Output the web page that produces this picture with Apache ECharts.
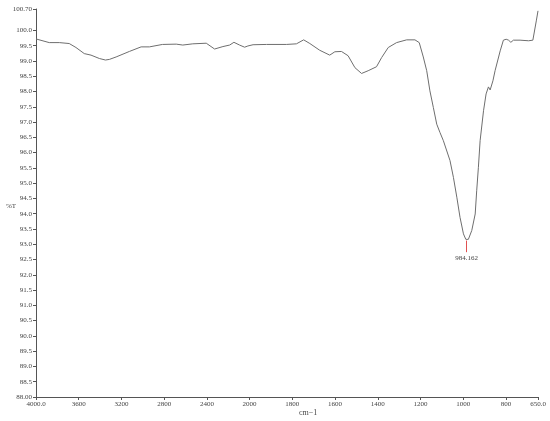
<!DOCTYPE html>
<html>
<head>
<meta charset="utf-8">
<script src="https://cdn.jsdelivr.net/npm/echarts@6/dist/echarts.min.js"></script>
<style>
  html, body { margin: 0; padding: 0; background: #fff; }
  #chart { width: 550px; height: 421px; }
</style>
</head>
<body>
<div id="chart"></div>
<script>
  // spectrum (wavenumber cm-1, %T)
  const wavenumbers = [
    4000, 3876, 3860, 3782, 3689, 3626, 3548, 3485, 3407, 3350, 3313, 3250, 3126, 3016,
    2938, 2816, 2687, 2626, 2532, 2406, 2328, 2250, 2187, 2147, 2094, 2047, 2016,
    1984, 1921, 1828, 1781, 1747, 1718, 1672, 1625, 1601, 1570, 1539, 1507, 1476,
    1445, 1406, 1382, 1351, 1312, 1265, 1226, 1206, 1187, 1171, 1156, 1140, 1124,
    1109, 1093, 1062, 1046, 1030, 1015, 999, 988, 984.162, 976, 960, 944, 937, 929,
    921, 905, 893, 882, 874, 861, 851, 827, 812, 799, 788, 777, 765, 734, 694, 686,
    674, 668, 658, 650
  ]
  const transmittance = [
    99.72, 99.60, 99.63, 99.60, 99.57, 99.44, 99.24, 99.19, 99.08, 99.03, 99.05, 99.13, 99.31, 99.46,
    99.46, 99.54, 99.55, 99.52, 99.56, 99.58, 99.39, 99.47, 99.52, 99.61, 99.52, 99.45, 99.49,
    99.53, 99.54, 99.54, 99.56, 99.69, 99.57, 99.35, 99.19, 99.30, 99.31, 99.17, 98.78, 98.59,
    98.68, 98.81, 99.11, 99.44, 99.60, 99.69, 99.69, 99.60, 99.13, 98.68, 98.02, 97.48, 96.93,
    96.66, 96.39, 95.74, 95.19, 94.54, 93.88, 93.34, 93.16, 93.14, 93.16, 93.45, 93.99, 94.75, 95.52,
    96.39, 97.37, 97.92, 98.15, 98.05, 98.35, 98.68, 99.33, 99.68, 99.71, 99.68, 99.61, 99.68, 99.68, 99.66, 99.71,
    99.68, 99.71, 100.31, 100.64
  ]
  const xTicks = [4000, 3600, 3200, 2800, 2400, 2000, 1800, 1600, 1400, 1200, 1000, 800, 650]
  const yTicks = [88, 88.5, 89, 89.5, 90, 90.5, 91, 91.5, 92, 92.5, 93, 93.5, 94, 94.5,
    95, 95.5, 96, 96.5, 97, 97.5, 98, 98.5, 99, 99.5, 100, 100.7]
  const peak = { wn: 984.162, t: 93.14, label: '984.162' }

  // the x scale halves its step at 2000 cm-1
  function toU(wn) {
    return wn >= 2000 ? (4000 - wn) / 2 : 1000 + (2000 - wn)
  }
  function fromU(u) {
    return u <= 1000 ? 4000 - u * 2 : 2000 - (u - 1000)
  }

  const labelFont = { fontFamily: 'Liberation Serif', fontSize: 7, color: '#444' }

  const chart = echarts.init(document.getElementById('chart'))
  chart.setOption({
    animation: false,
    grid: { left: 36, right: 12, top: 9, bottom: 24, containLabel: false, outerBoundsMode: 'none' },
    xAxis: {
      type: 'value',
      min: toU(4000),
      max: toU(650),
      splitLine: { show: false },
      axisLine: { lineStyle: { color: '#555', width: 1 } },
      axisTick: { length: 3, lineStyle: { color: '#555' }, customValues: xTicks.map(toU) },
      axisLabel: Object.assign({
        margin: 4,
        customValues: xTicks.map(toU),
        formatter: (u) => {
          const wn = Math.round(fromU(u))
          return (wn === 4000 || wn === 650) ? wn.toFixed(1) : String(wn)
        }
      }, labelFont)
    },
    yAxis: {
      type: 'value',
      min: 88,
      max: 100.7,
      splitLine: { show: false },
      axisLine: { show: true, lineStyle: { color: '#555', width: 1 } },
      axisTick: { show: true, length: 3, lineStyle: { color: '#555' }, customValues: yTicks },
      axisLabel: Object.assign({
        margin: 4,
        customValues: yTicks,
        formatter: (v) => (v === 88 || v === 100.7) ? v.toFixed(2) : v.toFixed(1)
      }, labelFont)
    },
    graphic: [
      { type: 'text', left: 6, top: 203, style: { text: '%T', font: '7px "Liberation Serif"', fill: '#444' } },
      { type: 'text', left: 299, top: 409, style: { text: 'cm\u22121', font: '8px "Liberation Serif"', fill: '#444' } }
    ],
    series: [
      {
        type: 'line',
        data: wavenumbers.map((wn, i) => [toU(wn), transmittance[i]]),
        symbol: 'none',
        lineStyle: { color: '#6e6e6e', width: 1 },
        markLine: {
          silent: true,
          symbol: 'none',
          lineStyle: { color: '#e05050', width: 1, type: 'solid' },
          label: Object.assign({ position: 'end', distance: 2, formatter: peak.label }, labelFont),
          data: [[
            { coord: [toU(peak.wn), peak.t - 0.02] },
            { coord: [toU(peak.wn), 92.74] }
          ]]
        }
      }
    ]
  })
</script>
</body>
</html>
